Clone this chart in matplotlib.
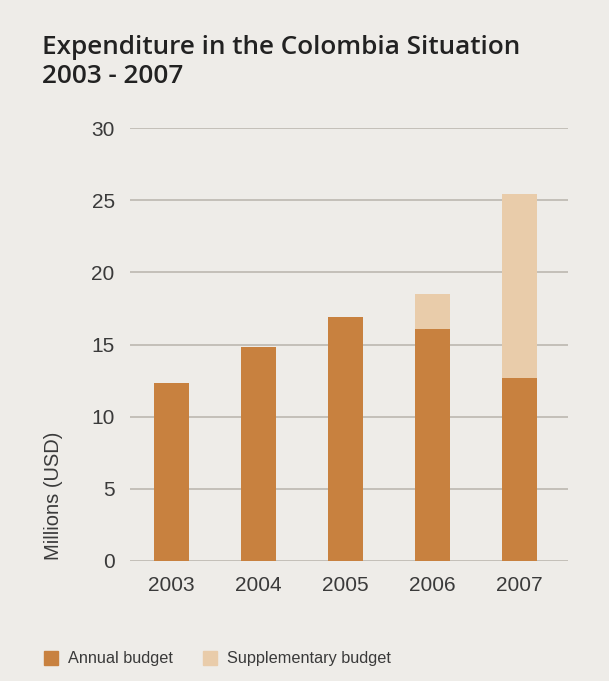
import matplotlib
matplotlib.use("Agg")
import matplotlib.pyplot as plt
from matplotlib.patches import Rectangle
import numpy as np

years = ["2003", "2004", "2005", "2006", "2007"]
annual = [12.3, 14.8, 16.9, 16.1, 12.7]
supplementary = [0.0, 0.0, 0.0, 2.4, 12.7]
yticks = [0, 5, 10, 15, 20, 25, 30]

bg = "#eeece8"
c_annual = "#c8813f"
c_supp = "#e9ccaa"

fig = plt.figure(figsize=(6.09, 6.81), dpi=100, facecolor=bg)
ax = fig.add_axes([130/609, 1-561/681, 438/609, 433/681], facecolor=bg)

x = np.arange(len(years))
w = 0.4
ax.bar(x, annual, width=w, color=c_annual, zorder=3)
ax.bar(x, supplementary, width=w, bottom=annual, color=c_supp, zorder=3)

ax.set_xlim(-0.48, 4.56)
ax.set_ylim(0, 30)
ax.set_yticks(yticks)
ax.set_xticks(x)
ax.set_xticklabels(years)
ax.grid(axis="y", color="#b8b3ab", linewidth=1.1, zorder=0)
ax.grid(axis="x", visible=False)
for s in ax.spines.values():
    s.set_visible(False)
ax.tick_params(length=0, labelsize=15, colors="#3a3a3a", labelfontfamily="Liberation Sans")
ax.tick_params(axis="y", pad=11)
ax.tick_params(axis="x", pad=11)
ax.set_ylabel("Millions (USD)", fontsize=14.5, color="#3a3a3a", family="Liberation Sans")
ax.yaxis.set_label_coords(-0.174, 0.150)
ax.yaxis.label.set_verticalalignment("center")

fig.text(42/609, 1-62/681, "Expenditure in the Colombia Situation\n2003 - 2007",
         fontsize=18.8, fontweight="semibold", family="Open Sans", color="#222222",
         va="center", ha="left", linespacing=1.2)

# legend
lx = [44, 203]
labels = ["Annual budget", "Supplementary budget"]
cols = [c_annual, c_supp]
for px, lab, col in zip(lx, labels, cols):
    fig.patches.append(Rectangle((px/609, 1-665/681), 14/609, 14/681,
                                 transform=fig.transFigure, color=col))
    fig.text((px+24)/609, 1-658/681, lab, fontsize=11.7, family="Liberation Sans",
             color="#3a3a3a", va="center", ha="left")

fig.savefig("out.png", dpi=100, facecolor=bg)
